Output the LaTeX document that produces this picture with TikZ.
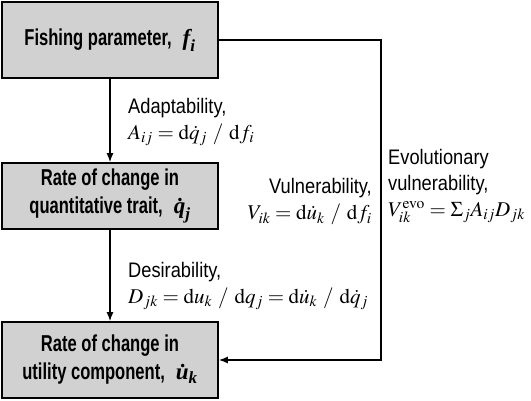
\documentclass[tikz,border=0pt]{standalone}
\usepackage{amsmath}
\usepackage{mathptmx}
\usepackage{fontspec}
\setmainfont{Liberation Serif}
\newfontfamily\labelfont[FakeStretch=0.87]{Liberation Sans}
\newfontfamily\boxfont[FakeStretch=0.72]{Liberation Sans}
\usetikzlibrary{arrows.meta}
\newcommand\bv[1]{\text{\rmfamily\bfseries\itshape #1}}
\newcommand\per{\mskip5mu/\mskip5mu}
\tikzset{
  box/.style={draw, line width=1.7pt, fill=black!18, minimum width=216, align=center,
              font=\boxfont\bfseries\fontsize{23}{28}\selectfont},
  lbl/.style={inner sep=0, font=\labelfont\fontsize{21}{26}\selectfont},
  link/.style={line width=1.3pt, -{Latex[length=9pt,width=7pt]}}
}
\begin{document}
\begin{tikzpicture}[x=1pt,y=-1pt]
\useasboundingbox (0,0) rectangle (531,400);
\node[box, minimum height=76] (fish) at (110,40) {Fishing parameter,\; $\bv{f}_{\bv{i}}$};
\node[box, minimum height=66] (trait) at (110,196) {Rate of change in\\ quantitative trait,\; $\bv{\.q}_{\bv{j}}$};
\node[box, minimum height=76] (util) at (110,360) {Rate of change in\\ utility component,\; $\bv{\.u}_{\bv{k}}$};
\draw[link] (fish) -- (trait);
\draw[link] (trait) -- (util);
\draw[link] (fish.east) -- ++(162,0) |- (util.east);
% labels on the links
\node[lbl, anchor=west, align=left] (adapt) at (128,122)
     {Adaptability,\\ $A_{ij}=\mathrm{d}\dot q_j\per\mathrm{d}f_i$};
\node[lbl, anchor=east, align=right] (vuln) at (372,202)
     {Vulnerability,\\ $V_{ik}=\mathrm{d}\dot u_k\per\mathrm{d}f_i$};
\node[lbl, anchor=west, align=left] (evo) at (388,186)
     {Evolutionary\\ vulnerability,\\ $V_{ik}^{\mathrm{evo}}=\Sigma_j A_{ij}D_{jk}$};
\node[lbl, anchor=west, align=left] (desir) at (128,286)
     {Desirability,\\ $D_{jk}=\mathrm{d}u_k\per\mathrm{d}q_j=\mathrm{d}\dot u_k\per\mathrm{d}\dot q_j$};
\end{tikzpicture}
\end{document}
